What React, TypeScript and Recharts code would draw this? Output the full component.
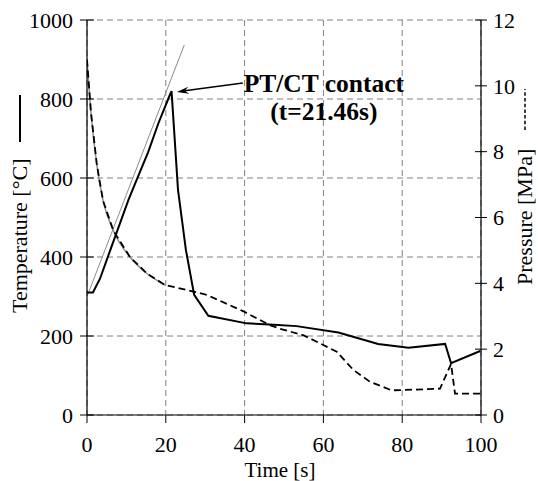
import { ComposedChart, Line, XAxis, YAxis, CartesianGrid, ReferenceDot } from "recharts";

const FONT = "Liberation Serif, Times New Roman, Times, DejaVu Serif, serif";

const timeTicks = [0, 20, 40, 60, 80, 100];
const tempTicks = [0, 200, 400, 600, 800, 1000];
const pressureTicks = [0, 2, 4, 6, 8, 10, 12];

// temperature [°C] vs time [s]
const temperature = [
  { t: 0, temp: 310 },
  { t: 1.5, temp: 310 },
  { t: 3.3, temp: 345 },
  { t: 6, temp: 420 },
  { t: 10.5, temp: 544 },
  { t: 12.6, temp: 595 },
  { t: 15.5, temp: 665 },
  { t: 18.1, temp: 738 },
  { t: 21.1, temp: 812 },
  { t: 21.46, temp: 820 },
  { t: 23.1, temp: 570 },
  { t: 25.1, temp: 418 },
  { t: 27.2, temp: 304 },
  { t: 30.8, temp: 251 },
  { t: 40.5, temp: 232 },
  { t: 46.4, temp: 229 },
  { t: 53.2, temp: 225 },
  { t: 63.8, temp: 209 },
  { t: 73.9, temp: 180 },
  { t: 81.6, temp: 170 },
  { t: 90.9, temp: 180 },
  { t: 92.4, temp: 131 },
  { t: 99.8, temp: 162 },
];

// linear heat-up fit (grey)
const tempFit = [
  { t: 0, temp: 300 },
  { t: 24.7, temp: 937 },
];

// pressure [MPa] vs time [s]
const pressure = [
  { t: 0, p: 10.8 },
  { t: 1, p: 9.2 },
  { t: 2.5, p: 7.6 },
  { t: 4.1, p: 6.5 },
  { t: 6.7, p: 5.6 },
  { t: 10.9, p: 4.8 },
  { t: 15.2, p: 4.3 },
  { t: 19.8, p: 3.95 },
  { t: 27, p: 3.75 },
  { t: 30.4, p: 3.65 },
  { t: 39.7, p: 3.15 },
  { t: 46.4, p: 2.73 },
  { t: 49, p: 2.62 },
  { t: 55, p: 2.42 },
  { t: 59.1, p: 2.18 },
  { t: 63.4, p: 1.92 },
  { t: 67.6, p: 1.37 },
  { t: 71.8, p: 1.01 },
  { t: 77.3, p: 0.75 },
  { t: 83, p: 0.77 },
  { t: 89.6, p: 0.8 },
  { t: 92.4, p: 1.55 },
  { t: 93.4, p: 0.65 },
  { t: 100, p: 0.65 },
];

// decay fit (grey) under the early pressure curve
const pressureFit = [
  { t: 0, p: 10.8 },
  { t: 1, p: 9.2 },
  { t: 2.5, p: 7.6 },
  { t: 4.1, p: 6.5 },
  { t: 6.7, p: 5.6 },
  { t: 10.9, p: 4.8 },
  { t: 15.2, p: 4.3 },
  { t: 19.8, p: 3.95 },
];

const contact = { t: 22.8, temp: 818 };

const L_TICK = 7;
const L_MARGIN = 7;
const R_TICK = 6;
const R_MARGIN = 6;

const textStyle = { fontFamily: FONT };

const LeftTick = (props: any) => {
  const { x, y, payload } = props;
  const ax = x + L_TICK + L_MARGIN;
  return (
    <g>
      <line x1={ax - L_TICK} x2={ax + L_TICK} y1={y} y2={y} stroke="#000" strokeWidth={1} />
      <text x={x} y={y} dy="0.355em" textAnchor="end" fontSize={22} fill="#000" style={textStyle}>
        {payload.value}
      </text>
    </g>
  );
};

const RightTick = (props: any) => {
  const { x, y, payload } = props;
  const ax = x - R_TICK - R_MARGIN;
  return (
    <g>
      <line x1={ax - R_TICK} x2={ax + R_TICK} y1={y} y2={y} stroke="#000" strokeWidth={1} />
      <text x={x} y={y} dy="0.355em" textAnchor="start" fontSize={22} fill="#000" style={textStyle}>
        {payload.value}
      </text>
    </g>
  );
};

const XTick = (props: any) => {
  const { x, y, payload } = props;
  return (
    <text x={x} y={y} dy="0.71em" textAnchor="middle" fontSize={22} fill="#000" style={textStyle}>
      {payload.value}
    </text>
  );
};

const LeftTitle = (props: any) => {
  const { viewBox } = props;
  const bx = viewBox.x + 27;
  const by = viewBox.y + viewBox.height - 102;
  return (
    <g>
      <text
        x={bx}
        y={by}
        transform={`rotate(-90, ${bx}, ${by})`}
        textAnchor="start"
        fontSize={22}
        fill="#000"
        style={textStyle}
      >
        Temperature [°C]
      </text>
      <line x1={bx - 7} x2={bx - 7} y1={by - 171} y2={by - 218} stroke="#000" strokeWidth={2} />
    </g>
  );
};

const RightTitle = (props: any) => {
  const { viewBox } = props;
  const bx = viewBox.x + 51;
  const by = viewBox.y + viewBox.height - 130;
  return (
    <g>
      <text
        x={bx}
        y={by}
        transform={`rotate(-90, ${bx}, ${by})`}
        textAnchor="start"
        fontSize={22}
        fill="#000"
        style={textStyle}
      >
        Pressure [MPa]
      </text>
      <line
        x1={bx - 7}
        x2={bx - 7}
        y1={by - 155}
        y2={by - 196}
        stroke="#000"
        strokeWidth={1.5}
        strokeDasharray="3.5 2.2"
      />
    </g>
  );
};

const XTitle = (props: any) => {
  const { viewBox } = props;
  const cx = viewBox.x + viewBox.width / 2 - 4;
  return (
    <text x={cx} y={viewBox.y + 62} textAnchor="middle" fontSize={21} fill="#000" style={textStyle}>
      Time [s]
    </text>
  );
};

const ContactNote = (props: any) => {
  const { cx, cy } = props;
  const tx = cx + 66;
  const ty = cy - 9;
  const len = Math.hypot(tx - cx, ty - cy);
  const ux = (tx - cx) / len;
  const uy = (ty - cy) / len;
  const hl = 12;
  const hw = 3.5;
  const bx = cx + ux * hl;
  const by = cy + uy * hl;
  return (
    <g>
      <line x1={cx + ux * 6} y1={cy + uy * 6} x2={tx} y2={ty} stroke="#000" strokeWidth={1.5} />
      <polygon
        points={`${cx},${cy} ${bx - uy * hw},${by + ux * hw} ${cx + ux * 8},${cy + uy * 8} ${bx + uy * hw},${by - ux * hw}`}
        fill="#000"
      />
      <text x={cx + 147} y={cy} textAnchor="middle" fontSize={25.5} fontWeight="bold" fill="#000" style={textStyle}>
        PT/CT contact
      </text>
      <text x={cx + 147} y={cy + 28} textAnchor="middle" fontSize={25.5} fontWeight="bold" fill="#000" style={textStyle}>
        (t=21.46s)
      </text>
    </g>
  );
};

const App = () => {
  return (
    <div style={{ position: "absolute", left: 0, top: 0, width: 538, height: 481, background: "#fff" }}>
      <ComposedChart
        width={538}
        height={481}
        margin={{ top: 20, right: 0, bottom: 0, left: 0 }}
        style={{ fontFamily: FONT }}
      >
        <CartesianGrid
          yAxisId="left"
          stroke="#808080"
          strokeWidth={1}
          strokeDasharray="6 4"
          horizontalValues={tempTicks}
          verticalValues={timeTicks}
        />
        <XAxis
          dataKey="t"
          type="number"
          domain={[0, 100]}
          ticks={timeTicks}
          allowDataOverflow
          height={66}
          axisLine={{ stroke: "#000", strokeWidth: 1.2 }}
          tickLine={{ stroke: "#000", strokeWidth: 1 }}
          tickSize={8}
          tickMargin={13}
          tick={<XTick />}
          label={<XTitle />}
        />
        <YAxis
          yAxisId="left"
          type="number"
          domain={[0, 1000]}
          ticks={tempTicks}
          width={87}
          axisLine={{ stroke: "#000", strokeWidth: 1.2 }}
          tickLine={false}
          tickSize={L_TICK}
          tickMargin={L_MARGIN}
          tick={<LeftTick />}
          label={<LeftTitle />}
        />
        <YAxis
          yAxisId="right"
          orientation="right"
          type="number"
          domain={[0, 12]}
          ticks={pressureTicks}
          width={57}
          axisLine={{ stroke: "#000", strokeWidth: 1.2 }}
          tickLine={false}
          tickSize={R_TICK}
          tickMargin={R_MARGIN}
          tick={<RightTick />}
          label={<RightTitle />}
        />
        <Line
          yAxisId="left"
          data={tempFit}
          dataKey="temp"
          type="linear"
          stroke="#8c8c8c"
          strokeWidth={1}
          dot={false}
          activeDot={false}
          isAnimationActive={false}
        />
        <Line
          yAxisId="right"
          data={pressureFit}
          dataKey="p"
          type="monotone"
          stroke="#8c8c8c"
          strokeWidth={1.5}
          dot={false}
          activeDot={false}
          isAnimationActive={false}
        />
        <Line
          yAxisId="right"
          data={pressure}
          dataKey="p"
          type="linear"
          stroke="#000"
          strokeWidth={1.8}
          strokeDasharray="7 4"
          dot={false}
          activeDot={false}
          isAnimationActive={false}
        />
        <Line
          yAxisId="left"
          data={temperature}
          dataKey="temp"
          type="linear"
          stroke="#000"
          strokeWidth={2}
          dot={false}
          activeDot={false}
          isAnimationActive={false}
        />
        <ReferenceDot
          yAxisId="left"
          x={contact.t}
          y={contact.temp}
          r={0}
          shape={(p: any) => <ContactNote {...p} />}
        />
      </ComposedChart>
    </div>
  );
};

export default App;
